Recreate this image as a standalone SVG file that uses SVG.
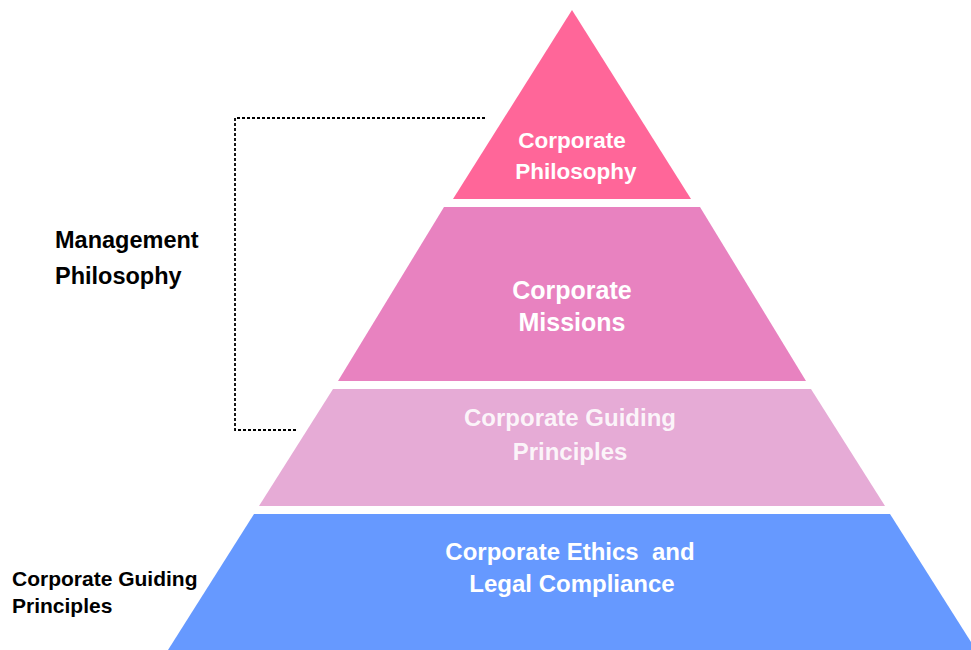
<svg xmlns="http://www.w3.org/2000/svg" width="971" height="650" viewBox="0 0 971 650">
<style>
.lbl{font-family:"Liberation Sans",Arial,sans-serif;font-weight:bold;font-size:24px;fill:#ffffff;text-anchor:middle;white-space:pre}
.side{font-family:"Liberation Sans",Arial,sans-serif;font-weight:bold;font-size:21px;fill:#000000}
.br{fill:none;stroke:#000;stroke-width:1.8;stroke-dasharray:3 2}
</style>
<rect width="971" height="650" fill="#ffffff"/>
<g id="connectors">
<path class="br" d="M485,118 H235 V430 H297"/>
</g>
<g id="philosophy">
<polygon points="572,10 691,199 453,199" fill="#FF6699"/>
<text class="lbl" x="572" y="148" style="font-size:22.5px">Corporate</text>
<text class="lbl" x="576" y="179" style="font-size:22.5px">Philosophy</text>
</g>
<g id="missions">
<polygon points="444,207 700,207 806,381 338,381" fill="#E882C0"/>
<text class="lbl" x="572" y="299" style="font-size:25px">Corporate</text>
<text class="lbl" x="572" y="331" style="font-size:25px">Missions</text>
</g>
<g id="guiding">
<polygon points="333,389 811,389 885,506 259,506" fill="#E6ABD6"/>
<text class="lbl" x="570" y="426" fill-opacity="0.88">Corporate Guiding</text>
<text class="lbl" x="570" y="460" fill-opacity="0.88">Principles</text>
</g>
<g id="ethics">
<polygon points="254,514 890,514 976,650 168,650" fill="#6699FF"/>
<text class="lbl" x="570" y="560">Corporate Ethics&#160; and</text>
<text class="lbl" x="572" y="592">Legal Compliance</text>
</g>
<g id="management-label">
<text class="side" x="55" y="248" style="font-size:23.5px">Management</text>
<text class="side" x="55" y="284" style="font-size:23.5px">Philosophy</text>
</g>
<g id="guiding-label">
<text class="side" x="12" y="586">Corporate Guiding</text>
<text class="side" x="12" y="613">Principles</text>
</g>
</svg>
